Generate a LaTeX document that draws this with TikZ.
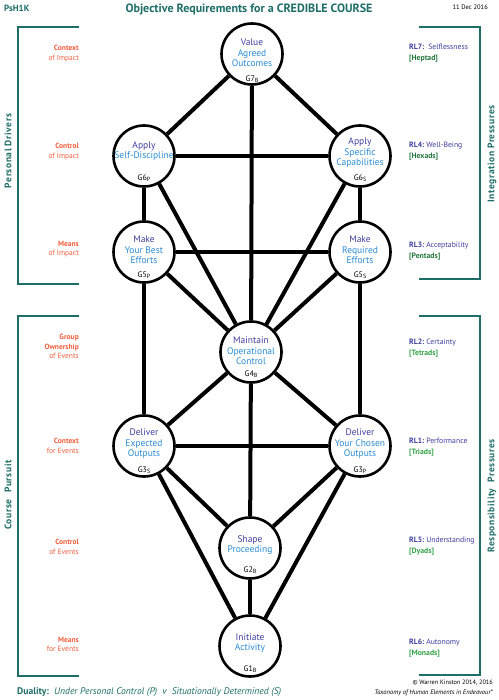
\documentclass[tikz,border=0pt]{standalone}
\usepackage{fontspec}
\setmainfont{PT Sans}
\definecolor{teal1}{RGB}{30,110,104}
\definecolor{orng}{RGB}{242,94,62}
\definecolor{dblue}{RGB}{62,62,158}
\definecolor{lblue}{RGB}{42,140,212}
\definecolor{grn}{RGB}{52,162,72}
\definecolor{dgrn}{RGB}{36,120,62}
\newcommand{\gsub}[1]{\raisebox{-0.8pt}{\fontsize{6}{6}\selectfont #1}}
\begin{document}
\begin{tikzpicture}[x=1pt,y=-1pt,
  gnode/.style={circle,draw=black,line width=2.6pt,fill=white,minimum size=61pt,inner sep=0pt},
  edge/.style={line width=4pt},
  ntext/.style={align=center,font=\fontsize{9.5}{10.5}\selectfont,text=lblue,inner sep=0pt},
  glab/.style={font=\fontsize{8}{8}\selectfont,inner sep=0pt},
  llab/.style={align=right,anchor=north east,font=\fontsize{7.5}{9.5}\selectfont,text=orng,inner sep=0pt},
  rlab/.style={align=left,anchor=north west,font=\fontsize{7.7}{10.5}\selectfont,inner sep=0pt},
  brk/.style={draw=teal1,line width=2pt},
  side/.style={rotate=90,font=\fontsize{9.5}{9.5}\selectfont\bfseries\addfontfeature{LetterSpace=6},text=teal1,inner sep=0pt}
]
\useasboundingbox (0,0) rectangle (498,700);
\fill[white] (0,0) rectangle (498,700);

% header
\node[inner sep=0pt,anchor=west,text=teal1,font=\fontsize{9}{9}\selectfont\bfseries] (ps) at (4,8) {PsH1K};
\node[inner sep=0pt,text=teal1,font=\fontsize{12}{12}\selectfont\bfseries] (title) at (249,9) {Objective Requirements for a CREDIBLE COURSE};
\node[inner sep=0pt,anchor=east,font=\fontsize{6.5}{6.5}\selectfont] (date) at (488,7) {11 Dec 2016};

% brackets
\draw[brk] (79,27) -- (18,27) -- (18,284) -- (79,284);
\draw[brk] (79,316) -- (18,316) -- (18,676) -- (79,676);
\draw[brk] (419,27) -- (480,27) -- (480,279) -- (419,279);
\draw[brk] (419,316) -- (480,316) -- (480,675) -- (419,675);
\node[side] (pd) at (8,151) {Personal Drivers};
\node[side] (cp) at (8,495) {Course\hspace{4pt} Pursuit};
\node[side] (ip) at (492,154) {Integration Pressures};
\node[side] (rp) at (492,496) {Responsibility\hspace{3pt} Pressures};

% circles
\node[gnode] (g7) at (252,54) {};
\node[gnode] (g6p) at (144,156) {};
\node[gnode] (g6s) at (360,156) {};
\node[gnode] (g5p) at (144,252) {};
\node[gnode] (g5s) at (360,252) {};
\node[gnode] (g4) at (251,352) {};
\node[gnode] (g3s) at (144,446) {};
\node[gnode] (g3p) at (360,446) {};
\node[gnode] (g2) at (250,548) {};
\node[gnode] (g1) at (250,646) {};

% edges
\foreach \a/\b in {g7/g6p,g7/g6s,g7/g4,g6p/g6s,g6p/g5p,g6s/g5s,g6p/g4,g6s/g4,g5p/g5s,g5p/g4,g5s/g4,g5p/g3s,g5s/g3p,g4/g3s,g4/g3p,g3s/g3p,g4/g2,g3s/g2,g3p/g2,g3s/g1,g3p/g1,g2/g1}
  \draw[edge] (\a) -- (\b);

% node texts
\node[ntext] (t7) at (252,53) {\textcolor{dblue}{Value}\\Agreed\\Outcomes};
\node[glab] (l7) at (252,79) {G7\gsub{B}};
\node[ntext] (t6p) at (144,151) {\textcolor{dblue}{Apply}\\Self-Discipline};
\node[glab] (l6p) at (144,178) {G6\gsub{P}};
\node[ntext] (t6s) at (360,153) {\textcolor{dblue}{Apply}\\Specific\\Capabilities};
\node[glab] (l6s) at (360,178) {G6\gsub{S}};
\node[ntext] (t5p) at (144,250) {\textcolor{dblue}{Make}\\Your Best\\Efforts};
\node[glab] (l5p) at (144,275) {G5\gsub{P}};
\node[ntext] (t5s) at (360,250) {\textcolor{dblue}{Make}\\Required\\Efforts};
\node[glab] (l5s) at (360,275) {G5\gsub{S}};
\node[ntext] (t4) at (251,351) {\textcolor{dblue}{Maintain}\\Operational\\Control};
\node[glab] (l4) at (251,374) {G4\gsub{B}};
\node[ntext] (t3s) at (144,444) {\textcolor{dblue}{Deliver}\\Expected\\Outputs};
\node[glab] (l3s) at (144,470) {G3\gsub{S}};
\node[ntext] (t3p) at (360,444) {\textcolor{dblue}{Deliver}\\Your Chosen\\Outputs};
\node[glab] (l3p) at (360,470) {G3\gsub{P}};
\node[ntext] (t2) at (250,545) {\textcolor{dblue}{Shape}\\Proceeding};
\node[glab] (l2) at (250,570) {G2\gsub{B}};
\node[ntext] (t1) at (250,643) {\textcolor{dblue}{Initiate}\\Activity};
\node[glab] (l1) at (250,669) {G1\gsub{B}};

% left labels
\node[llab] (a7) at (79,45) {\textbf{Context}\\of Impact};
\node[llab] (a6) at (79,143) {\textbf{Control}\\of Impact};
\node[llab] (a5) at (79,241) {\textbf{Means}\\of Impact};
\node[llab] (a4) at (79,334) {\textbf{Group}\\\textbf{Ownership}\\of Events};
\node[llab] (a3) at (79,438) {\textbf{Context}\\for Events};
\node[llab] (a2) at (79,539) {\textbf{Control}\\of Events};
\node[llab] (a1) at (79,637) {\textbf{Means}\\for Events};

% right labels
\node[rlab] (r7) at (409,44) {\textcolor{dblue}{\textbf{RL7:}\ \ Selflessness}\\\textcolor{dgrn}{\textbf{[Heptad]}}};
\node[rlab] (r4) at (409,142) {\textcolor{dblue}{\textbf{RL4:}\ Well-Being}\\\textcolor{dgrn}{\textbf{[Hexads]}}};
\node[rlab] (r3) at (409,242) {\textcolor{dblue}{\textbf{RL3:}\ Acceptability}\\\textcolor{dgrn}{\textbf{[Pentads]}}};
\node[rlab] (r2) at (409,339) {\textcolor{dblue}{\textbf{RL2:}\ Certainty}\\\textcolor{grn}{\textbf{[Tetrads]}}};
\node[rlab] (r1) at (409,438) {\textcolor{dblue}{\textbf{RL1:}\ Performance}\\\textcolor{grn}{\textbf{[Triads]}}};
\node[rlab] (r5) at (409,537) {\textcolor{dblue}{\textbf{RL5:}\ Understanding}\\\textcolor{grn}{\textbf{[Dyads]}}};
\node[rlab] (r6) at (409,639) {\textcolor{dblue}{\textbf{RL6:}\ Autonomy}\\\textcolor{grn}{\textbf{[Monads]}}};

% footer
\node[inner sep=0pt,anchor=west,text=teal1,font=\fontsize{9.6}{9.6}\selectfont] (dual) at (17,692) {\textbf{Duality:}\ \ \textit{Under Personal Control (P)\ \ v\ \ Situationally Determined (S)}};
\node[inner sep=0pt,anchor=east,font=\fontsize{6.3}{6.3}\selectfont] (copy) at (493,683) {\copyright\ Warren Kinston 2014, 2016};
\node[inner sep=0pt,anchor=east,font=\fontsize{6.5}{6.5}\selectfont\itshape] (tax) at (493,693) {Taxonomy of Human Elements in Endeavour*};
\end{tikzpicture}
\end{document}
